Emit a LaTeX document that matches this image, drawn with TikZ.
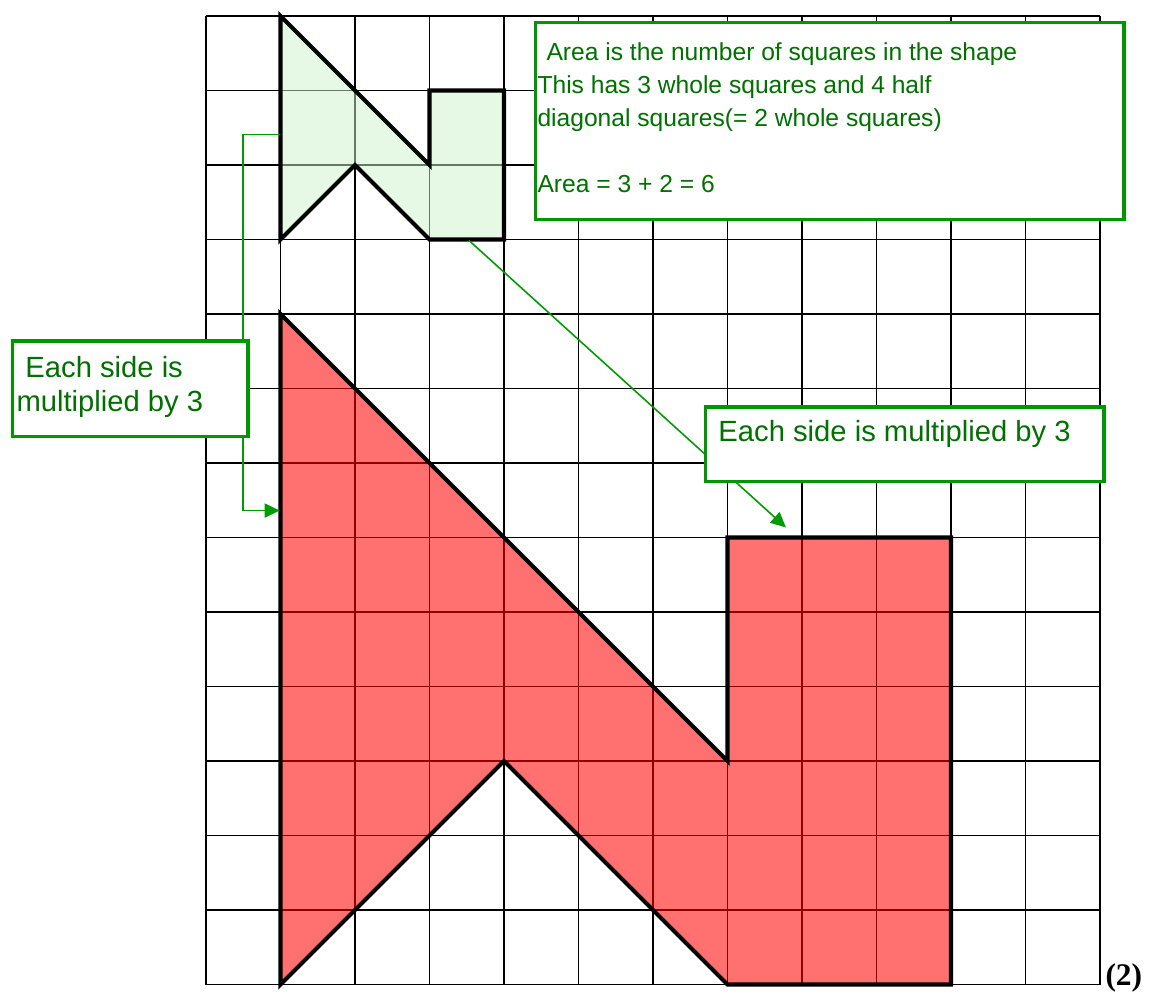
\documentclass[tikz,border=0pt]{standalone}
\usepackage{fontspec}
\setmainfont{Liberation Serif}
\newfontfamily\arialfont{Liberation Sans}
\usetikzlibrary{arrows.meta}
\definecolor{txtgreen}{RGB}{0,112,0}
\definecolor{boxgreen}{RGB}{0,150,0}
\definecolor{arrgreen}{RGB}{0,155,0}
\definecolor{redfill}{RGB}{255,0,0}
\definecolor{greenfill}{RGB}{205,245,205}
\tikzset{
  gridline/.style={draw=black, line width=0.7pt},
  outline/.style={draw=black, line width=1.6pt, line join=miter},
  notebox/.style={draw=boxgreen, fill=white, line width=1.3pt, rectangle, inner sep=0pt, anchor=north west},
  conn/.style={draw=arrgreen, line width=0.6pt, -{Triangle[length=5.8pt,width=5.4pt]}},
  bigtxt/.style={anchor=base west, inner sep=0pt, text=txtgreen, font=\arialfont\fontsize{11.15}{13}\selectfont},
  smalltxt/.style={anchor=base west, inner sep=0pt, text=txtgreen, font=\arialfont\fontsize{9.4}{11}\selectfont}
}
\begin{document}
\begin{tikzpicture}
\useasboundingbox[fill=white] (-2.765,-0.161) rectangle (12.738,13.215);
% grid
\draw[gridline] (0,0) grid (12,13);
% translucent fills over the grid
\fill[redfill, fill opacity=0.56] (1,9) -- (7,3) -- (7,6) -- (10,6) -- (10,0) -- (7,0) -- (4,3) -- (1,0) -- cycle;
\fill[greenfill, fill opacity=0.5] (1,13) -- (3,11) -- (3,12) -- (4,12) -- (4,10) -- (3,10) -- (2,11) -- (1,10) -- cycle;
% outlines
\draw[outline] (1,9) -- (7,3) -- (7,6) -- (10,6) -- (10,0) -- (7,0) -- (4,3) -- (1,0) -- cycle;
\draw[outline] (1,13) -- (3,11) -- (3,12) -- (4,12) -- (4,10) -- (3,10) -- (2,11) -- (1,10) -- cycle;
% connector end points
\coordinate (gL) at (1,11.409);
\coordinate (rL) at (0.99,6.362);
\coordinate (gB) at (3.53,9.987);
\coordinate (rT) at (7.785,6.134);
\draw[conn] (gL) -- ++(-0.503,0) |- (rL);
\draw[conn] (gB) -- (rT);
% boxes
\node[notebox, minimum width=7.90cm, minimum height=2.64cm] (topbox) at (4.40,12.935) {};
\node[notebox, minimum width=3.16cm, minimum height=1.28cm] (leftbox) at (-2.62,8.66) {};
\node[notebox, minimum width=5.35cm, minimum height=1.00cm] (rightbox) at (6.68,7.775) {};
% texts
\node[smalltxt] (t1) at (4.564,12.403) {Area is the number of squares in the shape};
\node[smalltxt] (t2) at (4.443,11.960) {This has 3 whole squares and 4 half};
\node[smalltxt] (t3) at (4.443,11.517) {diagonal squares(= 2 whole squares)};
\node[smalltxt] (t4) at (4.443,10.631) {Area = 3 + 2 = 6};
\node[bigtxt] (l1) at (-2.430,8.148) {Each side is};
\node[bigtxt] (l2) at (-2.550,7.691) {multiplied by 3};
\node[bigtxt] (r1) at (6.872,7.293) {Each side is multiplied by 3};
\node[anchor=base west, inner sep=0pt, font=\bfseries\fontsize{12}{14}\selectfont] (num) at (12.067,-0.013) {(2)};
\end{tikzpicture}
\end{document}
